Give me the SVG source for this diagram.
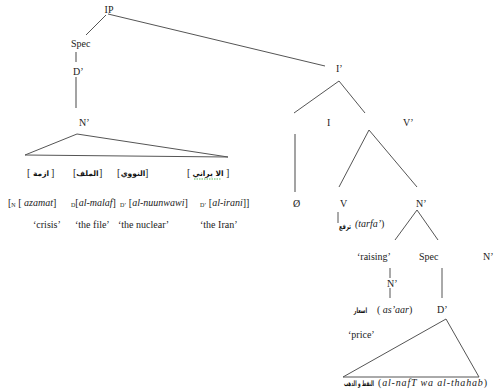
<svg xmlns="http://www.w3.org/2000/svg" width="494" height="392" viewBox="0 0 494 392">
<style>
text{font-family:"Liberation Serif","Times New Roman",serif;font-size:10px;fill:#222}
.ar{font-family:"DejaVu Sans","Noto Sans",sans-serif;font-weight:bold;font-size:7.5px;fill:#111}
.it{font-style:italic}
.sub{font-size:6px}
.ln{stroke:#555;stroke-width:1;fill:none}
.gl{stroke:#999;stroke-width:1.8;fill:none}
</style>
<rect width="494" height="392" fill="#fff"/>
<g id="connectors">
<line class="ln" x1="106" y1="15" x2="86" y2="35"/>
<line class="ln" x1="108" y1="14" x2="325" y2="66"/>
<line class="gl" x1="76" y1="52" x2="76" y2="62"/>
<line class="gl" x1="76" y1="77" x2="76" y2="108"/>
<polygon class="ln" points="77,134 25,155 228,157"/>
<line class="ln" x1="339" y1="81" x2="294" y2="113"/>
<line class="ln" x1="339" y1="81" x2="365" y2="113"/>
<line class="gl" x1="295" y1="134" x2="295" y2="192"/>
<line class="ln" x1="369" y1="130" x2="339" y2="187"/>
<line class="ln" x1="369" y1="130" x2="417" y2="187"/>
<line class="ln" x1="338" y1="212" x2="338" y2="223"/>
<line class="ln" x1="417" y1="210" x2="395" y2="240"/>
<line class="ln" x1="417" y1="210" x2="438" y2="240"/>
<line class="ln" x1="390" y1="268" x2="390" y2="278"/>
<line class="ln" x1="390" y1="288" x2="390" y2="298"/>
<line class="ln" x1="442" y1="268" x2="442" y2="298"/>
<polygon class="ln" points="446,319 343,377 479,377"/>
</g>
<g id="IP"><text x="109" y="13" text-anchor="middle">IP</text></g>
<g id="Spec1"><text x="71" y="47">Spec</text></g>
<g id="D1"><text x="73" y="75">D’</text></g>
<g id="N1"><text x="79" y="126">N’</text></g>
<g id="arabic-row">
<text x="27" y="176">[</text><text class="ar" x="41" y="176" text-anchor="middle">ازمة</text><text x="51" y="176">]</text>
<text x="73" y="176">[</text><text class="ar" x="87.5" y="176" text-anchor="middle">الملف</text><text x="99" y="176">]</text>
<text x="117" y="176">[</text><text class="ar" x="133" y="176" text-anchor="middle">النووي</text><text x="145" y="176">]</text>
<text x="187" y="176">[</text><text class="ar" x="208" y="176" text-anchor="middle">الا يراني</text><text x="226" y="176">]</text>
<line x1="194" y1="179" x2="221" y2="179" stroke="#3a3" stroke-width="0.8" stroke-dasharray="1.5,1"/>
</g>
<g id="translit-row">
<text x="8" y="206">[<tspan class="sub" dy="1">N</tspan><tspan dy="-1"> [ </tspan><tspan class="it">azamat</tspan>]</text>
<text x="71" y="206"><tspan class="sub" dy="1">D</tspan><tspan dy="-1">[</tspan><tspan class="it">al-malaf</tspan>]</text>
<text x="120" y="206"><tspan class="sub" dy="1">D’</tspan><tspan dy="-1"> [</tspan><tspan class="it">al-nuunwawi</tspan>]</text>
<text x="200" y="206"><tspan class="sub" dy="1">D’</tspan><tspan dy="-1"> [</tspan><tspan class="it">al-irani</tspan>]]</text>
</g>
<g id="gloss-row">
<text x="33" y="228">‘crisis’</text>
<text x="75" y="228">‘the file’</text>
<text x="118" y="228">‘the nuclear’</text>
<text x="200" y="228">‘the Iran’</text>
</g>
<g id="I-bar"><text x="336" y="72">I’</text></g>
<g id="I"><text x="327" y="126">I</text></g>
<g id="V-bar"><text x="403" y="126">V’</text></g>
<g id="null"><text x="293" y="207">Ø</text></g>
<g id="V"><text x="340" y="207">V</text></g>
<g id="N2"><text x="416" y="207">N’</text></g>
<g id="tarfa"><text transform="translate(351,229) scale(0.68,1)" class="ar" font-size="11px" text-anchor="end">ترفع</text><text x="355" y="227"><tspan class="it">(tarfa’</tspan>)</text></g>
<g id="raising"><text x="357" y="260">‘raising’</text></g>
<g id="Spec2"><text x="419" y="260">Spec</text></g>
<g id="N4"><text x="483" y="260">N’</text></g>
<g id="N3"><text x="387" y="287">N’</text></g>
<g id="asaar"><text transform="translate(367,313) scale(0.62,1)" class="ar" font-size="9px" text-anchor="end">اسعار</text><text x="377" y="313">( <tspan class="it">as’aar</tspan>)</text></g>
<g id="D2"><text x="437" y="313">D’</text></g>
<g id="price"><text x="348" y="338">‘price’</text></g>
<g id="gold"><text transform="translate(374,386) scale(0.55,1)" class="ar" font-size="9px" text-anchor="end">النفط و الذهب</text><text x="378" y="386" textLength="109" lengthAdjust="spacing">(<tspan class="it">al-nafT wa al-thahab</tspan>)</text></g>
</svg>
